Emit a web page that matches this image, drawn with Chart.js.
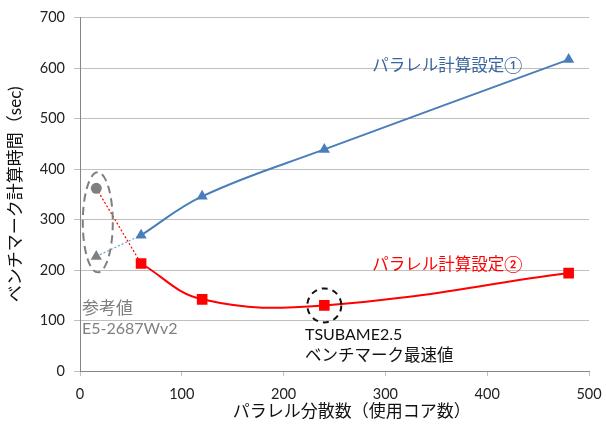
<!DOCTYPE html>
<html>
<head>
<meta charset="utf-8">
<script src="https://cdn.jsdelivr.net/npm/chart.js@4/dist/chart.umd.min.js"></script>
<style>
  html, body { margin: 0; padding: 0; background: #fff; }
  #wrap { width: 606px; height: 439px; }
</style>
</head>
<body>
<div id="wrap"><canvas id="c" width="606" height="439"></canvas></div>
<script>
// Core counts and benchmark times (sec)
const cores = [60, 120, 240, 480];
const setting1 = [269, 346, 439, 617];
const setting2 = [213, 142, 130, 194];

// Reference machine (E5-2687Wv2) at 16 cores
const refCores = 16;
const refSetting2 = 362;
const refSetting1 = 227;

// Axis ticks
const xTicks = [0, 100, 200, 300, 400, 500];
const yTicks = [0, 100, 200, 300, 400, 500, 600, 700];

const FONT = "Lato, 'Noto Sans CJK JP', sans-serif";
const BLUE = '#4A7EBB';
const RED = '#FF0000';
const GRAY = '#7F7F7F';

const pts = (xs, ys) => xs.map((x, i) => ({ x: x, y: ys[i] }));

// Annotations: dashed outlines, labels and the x-axis caption
const annotate = {
  id: 'annotate',
  afterDatasetsDraw(chart) {
    const { ctx, chartArea } = chart;
    const xs = chart.scales.x, ys = chart.scales.y;
    const px = v => xs.getPixelForValue(v);
    const py = v => ys.getPixelForValue(v);
    ctx.save();

    // Ellipse around the reference points
    ctx.beginPath();
    ctx.setLineDash([8, 5]);
    ctx.lineWidth = 2;
    ctx.strokeStyle = GRAY;
    ctx.ellipse(px(refCores) + 1.5, py((refSetting1 + refSetting2) / 2), 15, 50, 0, 0, Math.PI * 2);
    ctx.stroke();

    // Circle around the fastest setting-② point
    ctx.beginPath();
    ctx.setLineDash([6, 5]);
    ctx.strokeStyle = '#111';
    ctx.arc(px(cores[2]), py(setting2[2]), 17, 0, Math.PI * 2);
    ctx.stroke();
    ctx.setLineDash([]);

    ctx.textBaseline = 'middle';
    ctx.textAlign = 'left';
    ctx.font = "16.5px " + FONT;
    ctx.fillStyle = '#3A649E';
    ctx.fillText('パラレル計算設定①', px(287), py(605));
    ctx.fillStyle = RED;
    ctx.fillText('パラレル計算設定②', px(287), py(210));

    ctx.fillStyle = GRAY;
    ctx.font = "17px " + FONT;
    ctx.fillText('参考値', px(2), py(123));
    ctx.font = "16px " + FONT;
    ctx.fillText('E5-2687Wv2', px(2), py(83));

    ctx.fillStyle = '#111';
    ctx.fillText('TSUBAME2.5', px(221), py(71));
    ctx.font = "16.5px " + FONT;
    ctx.fillText('ベンチマーク最速値', px(221), py(30));

    // x-axis caption
    ctx.textAlign = 'center';
    ctx.font = "17px " + FONT;
    ctx.fillText('パラレル分散数（使用コア数）', px(267), chartArea.bottom + 41);
    ctx.restore();
  }
};

new Chart(document.getElementById('c'), {
  type: 'scatter',
  data: {
    datasets: [
      {
        label: 'ref-②',
        data: pts([refCores, cores[0]], [refSetting2, setting2[0]]),
        showLine: true, borderColor: RED, borderWidth: 1.2, borderDash: [2, 2],
        pointRadius: 0, order: 5
      },
      {
        label: 'ref-①',
        data: pts([refCores, cores[0]], [refSetting1, setting1[0]]),
        showLine: true, borderColor: '#6F9BD4', borderWidth: 1.2, borderDash: [2, 2],
        pointRadius: 0, order: 5
      },
      {
        label: 'パラレル計算設定①',
        data: pts(cores, setting1),
        showLine: true, borderColor: BLUE, borderWidth: 2, tension: 0.4,
        pointStyle: 'triangle', pointRadius: 6.5, pointBackgroundColor: BLUE,
        pointBorderColor: BLUE, pointBorderWidth: 0, order: 1
      },
      {
        label: 'パラレル計算設定②',
        data: pts(cores, setting2),
        showLine: true, borderColor: RED, borderWidth: 2, tension: 0.4,
        pointStyle: 'rect', pointRadius: 7.5, pointBackgroundColor: RED,
        pointBorderColor: RED, pointBorderWidth: 0, order: 1
      },
      {
        label: '参考値 ②',
        data: [{ x: refCores, y: refSetting2 }],
        pointStyle: 'circle', pointRadius: 5.5, pointBackgroundColor: GRAY,
        pointBorderColor: GRAY, pointBorderWidth: 0, order: 1
      },
      {
        label: '参考値 ①',
        data: [{ x: refCores, y: refSetting1 }],
        pointStyle: 'triangle', pointRadius: 6.5, pointBackgroundColor: GRAY,
        pointBorderColor: GRAY, pointBorderWidth: 0, order: 1
      }
    ]
  },
  options: {
    responsive: false,
    animation: false,
    devicePixelRatio: 1,
    layout: { padding: { top: 17, right: 17, bottom: 0, left: 0 } },
    plugins: { legend: { display: false }, tooltip: { enabled: false } },
    scales: {
      x: {
        type: 'linear', min: 0, max: 500,
        afterBuildTicks: s => { s.ticks = xTicks.map(v => ({ value: v })); },
        afterFit: s => { s.height = 68; s.paddingRight = 17; },
        grid: { display: true, drawOnChartArea: false, drawTicks: true, tickLength: 5, color: '#BFBFBF' },
        border: { color: '#868686', width: 1 },
        ticks: { color: '#222', font: { family: FONT, size: 14.5 }, padding: 10, maxRotation: 0 },
        title: { display: false }
      },
      y: {
        type: 'linear', min: 0, max: 700,
        afterBuildTicks: s => { s.ticks = yTicks.map(v => ({ value: v })); },
        afterFit: s => { s.width = 80; },
        grid: { color: '#BFBFBF', tickLength: 6, lineWidth: 1 },
        border: { color: '#868686', width: 1 },
        ticks: { color: '#222', font: { family: FONT, size: 14.5 }, padding: 9 },
        title: {
          display: true, text: 'ベンチマーク計算時間（sec)', color: '#111',
          font: { family: FONT, size: 17 }, padding: { top: 5, bottom: 0 }
        }
      }
    }
  },
  plugins: [annotate]
});
</script>
</body>
</html>
